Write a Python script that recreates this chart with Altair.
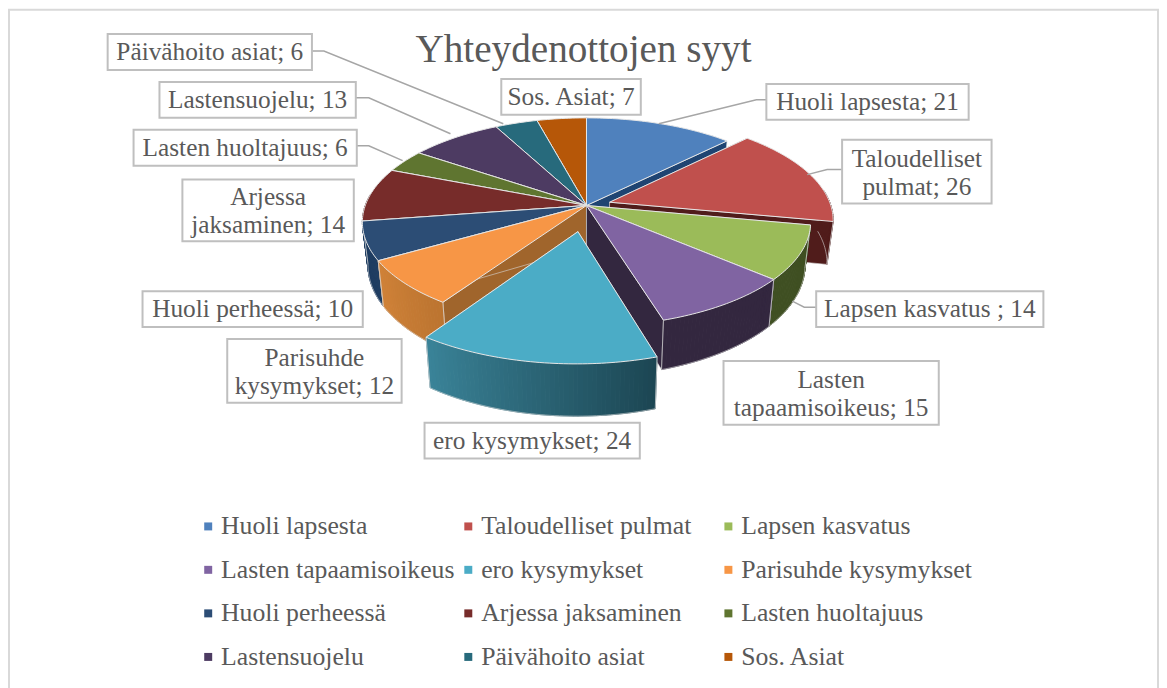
import numpy as np
import altair as alt

# ---- chart values ----
names = ["Huoli lapsesta", "Taloudelliset pulmat", "Lapsen kasvatus", "Lasten tapaamisoikeus",
         "ero kysymykset", "Parisuhde kysymykset", "Huoli perheessä", "Arjessa jaksaminen",
         "Lasten huoltajuus", "Lastensuojelu", "Päivähoito asiat", "Sos. Asiat"]
values = [21, 26, 14, 15, 24, 12, 10, 14, 6, 13, 6, 7]
explode = [0, 0.11, 0, 0, 0.25, 0, 0, 0, 0, 0, 0, 0]
colors = ["#4F81BD", "#C0504D", "#9BBB59", "#8064A2", "#4BACC6", "#F79646",
          "#2C4D75", "#772C2A", "#5F7530", "#4D3B62", "#276A7C", "#B65708"]
wall_a = ["#1F4472", "#501C1B", "#3F4F22", "#33273F", "#1C4653", "#BC7430",
          "#1F3D61", "#4F1D1C", "#3F4E20", "#33273F", "#1A4753", "#7A3A05"]
wall_b = ["#1F4472", "#501C1B", "#3F4F22", "#33273F", "#3A8398", "#D08238",
          "#1F3D61", "#4F1D1C", "#3F4E20", "#33273F", "#1A4753", "#7A3A05"]
cut_col = ["#1F4472", "#501C1B", "#3F4F22", "#33273F", "#2B6474", "#A0652C",
           "#1F3D61", "#4F1D1C", "#3F4E20", "#33273F", "#1A4753", "#7A3A05"]

title_text = "Yhteydenottojen syyt"
label_text = ["Huoli lapsesta; 21", "Taloudelliset\npulmat; 26", "Lapsen kasvatus ; 14",
              "Lasten\ntapaamisoikeus; 15", "ero kysymykset; 24", "Parisuhde\nkysymykset; 12",
              "Huoli perheessä; 10", "Arjessa\njaksaminen; 14", "Lasten huoltajuus; 6",
              "Lastensuojelu; 13", "Päivähoito asiat; 6", "Sos. Asiat; 7"]

# ---- layout (page pixels) ----
OFF_X, OFF_Y = 6, 8
CX, CY, RX, RY, K, DEPTH, SHRINK = 586.5, 205, 222, 102, 0.16, 42, 0.975
box_x0 = [767, 843, 817, 724, 424, 226, 141, 181, 132, 158, 106, 501]
box_x1 = [970, 993, 1045, 940, 640, 401, 362, 353, 356, 355, 311, 641]
box_y0 = [83, 139, 291, 361, 423, 339, 291, 179, 129, 81, 33, 78]
box_y1 = [119, 203, 327, 425, 459, 403, 327, 241, 165, 117, 69, 114]
leaders = [
    [(767, 99), (757, 99), (659, 123)],
    [(843, 169), (828, 169), (808, 174)],
    [(817, 307), (805, 307), (793, 301)],
    [(311, 50), (323, 50), (503, 123)],
    [(355, 97), (368, 97), (450, 133)],
    [(356, 145), (368, 145), (402, 160)],
]


def project(u, v, low=False):
    s = 1 / (1 + K * v)
    x, y = CX + RX * u * s, CY - RY * v * s
    if low:
        x, y = CX + (x - CX) * SHRINK, y + DEPTH * s
    return [round(float(x - OFF_X), 2), round(float(y - OFF_Y), 2)]


def poly(pts, fill, stroke, sw):
    return {"type": "Feature", "properties": {"fill": fill, "stroke": stroke, "sw": sw},
            "geometry": {"type": "Polygon", "coordinates": [pts + [pts[0]]]}}


def line(pts, stroke, sw):
    return {"type": "Feature", "properties": {"fill": "transparent", "stroke": stroke, "sw": sw},
            "geometry": {"type": "LineString", "coordinates": pts}}


def mix(a, b, t):
    ca = [int(a[i:i + 2], 16) for i in (1, 3, 5)]
    cb = [int(b[i:i + 2], 16) for i in (1, 3, 5)]
    return "#%02x%02x%02x" % tuple(round(p + (q - p) * t) for p, q in zip(ca, cb))


fracs = np.cumsum([0] + values) / sum(values) * 2 * np.pi
slices = []
for i, name in enumerate(names):
    t0, t1 = fracs[i], fracs[i + 1]
    mid = (t0 + t1) / 2
    du, dv = explode[i] * np.sin(mid), explode[i] * np.cos(mid)
    ts = np.linspace(t0, t1, max(4, int((t1 - t0) * 60)))
    pu, pv = np.sin(ts) + du, np.cos(ts) + dv
    apex_t, apex_b = project(du, dv), project(du, dv, True)
    top_arc = [project(a, b) for a, b in zip(pu, pv)]
    low_arc = [project(a, b, True) for a, b in zip(pu, pv)]
    walls = []
    for j in (0, -1):
        walls.append(poly([apex_t, top_arc[j], low_arc[j], apex_b], cut_col[i], "#d8d8d8", 0.6))
    # the outer wall only shows where it faces the viewer
    idx = [j for j, t in enumerate(ts) if np.cos(t) < 0.12]
    if len(idx) > 1:
        for n, j in enumerate(idx[:-1]):
            c = mix(wall_a[i], wall_b[i], n / max(1, len(idx) - 2))
            walls.append(poly([top_arc[j], top_arc[j + 1], low_arc[j + 1], low_arc[j]], c, c, 1))
        walls.append(line([low_arc[j] for j in idx], "#d8d8d8", 0.6))
        if idx[0] == 0:
            walls.append(line([top_arc[0], low_arc[0]], "#d8d8d8", 0.8))
        if idx[-1] == len(ts) - 1:
            walls.append(line([top_arc[-1], low_arc[-1]], "#d8d8d8", 0.8))
    top = poly([apex_t] + top_arc, colors[i], "#e6e6e6", 1)
    top["properties"]["name"] = name
    slices.append((float(np.cos(mid) + dv), walls, top))
slices.sort(key=lambda s: -s[0])

proj = dict(type="identity", scale=1, translate=[0, 0])
layers = []

frame = alt.Chart(alt.Data(values=[{"a": 1, "b": 1154, "c": 0.5, "d": 720}])).mark_rect(
    fill="white", stroke="#D9D9D9", strokeWidth=2
).encode(x=alt.X("a:Q", scale=None, axis=None), x2="b:Q",
         y=alt.Y("c:Q", scale=None, axis=None), y2="d:Q")
layers.append(frame)

for _, walls, top in slices:
    layers.append(alt.Chart(alt.Data(values=walls)).mark_geoshape().project(**proj).encode(
        fill=alt.Fill("properties.fill:N", scale=None),
        stroke=alt.Stroke("properties.stroke:N", scale=None),
        strokeWidth=alt.StrokeWidth("properties.sw:Q", scale=None),
    ))
    layers.append(alt.Chart(alt.Data(values=[top])).mark_geoshape(stroke="#e6e6e6", strokeWidth=1).project(**proj).encode(
        color=alt.Color("properties.name:N", scale=alt.Scale(domain=names, range=colors),
                        legend=alt.Legend(title=None, orient="none", legendX=194 - OFF_X, legendY=514 - OFF_Y,
                                          columns=3, direction="horizontal", gridAlign="all",
                                          symbolType="square", symbolSize=64, symbolStrokeWidth=0,
                                          labelFont="Liberation Serif", labelFontSize=25.8,
                                          labelColor="#595959", labelLimit=300, labelOffset=0,
                                          rowPadding=16.7, columnPadding=0, symbolOffset=0, values=names)),
    ))

line_feats = [{"type": "Feature", "properties": {},
               "geometry": {"type": "LineString", "coordinates": [[p[0] - OFF_X, p[1] - OFF_Y] for p in pts]}}
              for pts in leaders]
layers.append(alt.Chart(alt.Data(values=line_feats)).mark_geoshape(filled=False, stroke="#A6A6A6", strokeWidth=1.5).project(**proj))

rows = [{"text": t, "x0": a - OFF_X, "x1": b - OFF_X, "y0": c - OFF_Y, "y1": d - OFF_Y,
         "xm": (a + b) / 2 - OFF_X, "ym": (c + d) / 2 - OFF_Y - (13 if "\n" in t else 0)}
        for t, a, b, c, d in zip(label_text, box_x0, box_x1, box_y0, box_y1)]
box_data = alt.Data(values=rows)
layers.append(alt.Chart(box_data).mark_rect(fill="white", stroke="#BFBFBF", strokeWidth=2).encode(
    x=alt.X("x0:Q", scale=None, axis=None), x2="x1:Q",
    y=alt.Y("y0:Q", scale=None, axis=None), y2="y1:Q"))
layers.append(alt.Chart(box_data).mark_text(font="Liberation Serif", fontSize=25.4, color="#595959",
                                            lineBreak="\n", lineHeight=28, align="center", baseline="middle").encode(
    x=alt.X("xm:Q", scale=None, axis=None), y=alt.Y("ym:Q", scale=None, axis=None), text="text:N"))

layers.append(alt.Chart(alt.Data(values=[{"t": title_text, "x": 583.5 - OFF_X, "y": 49 - OFF_Y}])).mark_text(
    font="Liberation Serif", fontSize=39.3, color="#595959", align="center", baseline="middle").encode(
    x=alt.X("x:Q", scale=None, axis=None), y=alt.Y("y:Q", scale=None, axis=None), text="t:N"))

chart = alt.layer(*layers).properties(
    width=1155, height=680, padding=0, autosize=alt.AutoSizeParams(type="none")
).configure_view(stroke=None)

chart.save("out.html", embed_options={"renderer": "svg", "actions": False})
